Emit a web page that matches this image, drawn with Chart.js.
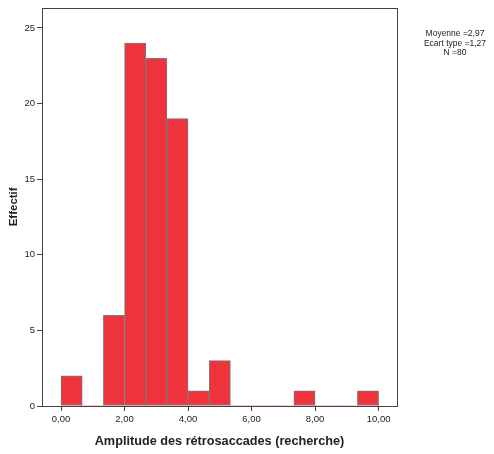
<!DOCTYPE html>
<html><head><meta charset="utf-8">
<script src="https://cdn.jsdelivr.net/npm/chart.js@4"></script>
<style>html,body{margin:0;padding:0;background:#fff;} #wrap{width:494px;height:454px;}</style>
</head><body><div id="wrap"><canvas id="c" width="494" height="454"></canvas></div>
<script>
// Histogram bins (start of each bin) and counts
const binStarts = [0, 2/3, 4/3, 2, 8/3, 10/3, 4, 14/3, 16/3, 6, 20/3, 22/3, 8, 26/3, 28/3];
const binWidth = 2/3;
const counts = [2, 0, 6, 24, 23, 19, 1, 3, 0, 0, 0, 1, 0, 0, 1];
const xTicks = [0, 2, 4, 6, 8, 10];
const yTicks = [0, 5, 10, 15, 20, 25];
const statLines = ['Moyenne =2,97', 'Ecart type =1,27', 'N =80'];
const xTitle = 'Amplitude des rétrosaccades (recherche)';
const yTitle = 'Effectif';

const FONT = "'Liberation Sans', Arial, sans-serif";

const framePlugin = {
  id: 'frame',
  afterDraw(chart) {
    const {ctx, chartArea: a} = chart;
    ctx.save();
    ctx.strokeStyle = '#444';
    ctx.lineWidth = 1;
    ctx.strokeRect(Math.round(a.left) + 0.5, Math.round(a.top) + 0.5,
      Math.round(a.right - a.left), Math.round(a.bottom - a.top));
    ctx.fillStyle = '#222';
    ctx.font = "8.5px " + FONT;
    ctx.textAlign = 'center';
    ctx.textBaseline = 'middle';
    statLines.forEach((t, i) => ctx.fillText(t, 455, 34 + i * 9.3));
    ctx.restore();
  }
};

new Chart(document.getElementById('c'), {
  type: 'bar',
  data: {
    datasets: [{
      data: binStarts.map((s, i) => ({x: s + binWidth / 2, y: counts[i]})),
      backgroundColor: '#EE333C',
      borderColor: '#7a7a7a',
      borderWidth: ctx => (ctx.raw && ctx.raw.y > 0 ? 1 : 0),
      borderSkipped: false,
      barPercentage: 1,
      categoryPercentage: 1
    }]
  },
  options: {
    responsive: false,
    animation: false,
    layout: {padding: {top: 7, right: 97, left: 0, bottom: 0}},
    plugins: {legend: {display: false}, tooltip: {enabled: false}},
    scales: {
      x: {
        type: 'linear', min: -0.6, max: 10.58, offset: false,
        afterBuildTicks: s => { s.ticks = xTicks.map(v => ({value: v})); },
        afterFit: s => { s.height = 48; },
        ticks: {
          callback: v => v.toFixed(2).replace('.', ','),
          font: {family: FONT, size: 9.5}, color: '#222', maxRotation: 0, autoSkip: false, padding: 3
        },
        grid: {drawOnChartArea: false, drawTicks: true, tickLength: 5, color: '#444', offset: false},
        border: {display: false},
        title: {display: true, text: xTitle, color: '#222',
          font: {family: FONT, size: 12.7, weight: 'bold'}, padding: {top: 4, bottom: 5}}
      },
      y: {
        type: 'linear', min: 0, max: 26.34,
        afterBuildTicks: s => { s.ticks = yTicks.map(v => ({value: v})); },
        afterFit: s => { s.width = 42; },
        ticks: {font: {family: FONT, size: 9.5}, color: '#222', padding: 2},
        grid: {drawOnChartArea: false, drawTicks: true, tickLength: 5, color: '#444'},
        border: {display: false},
        title: {display: true, text: yTitle, color: '#222',
          font: {family: FONT, size: 11.5, weight: 'bold'}, padding: {top: 7, bottom: 4}}
      }
    }
  },
  plugins: [framePlugin]
});
</script></body></html>
